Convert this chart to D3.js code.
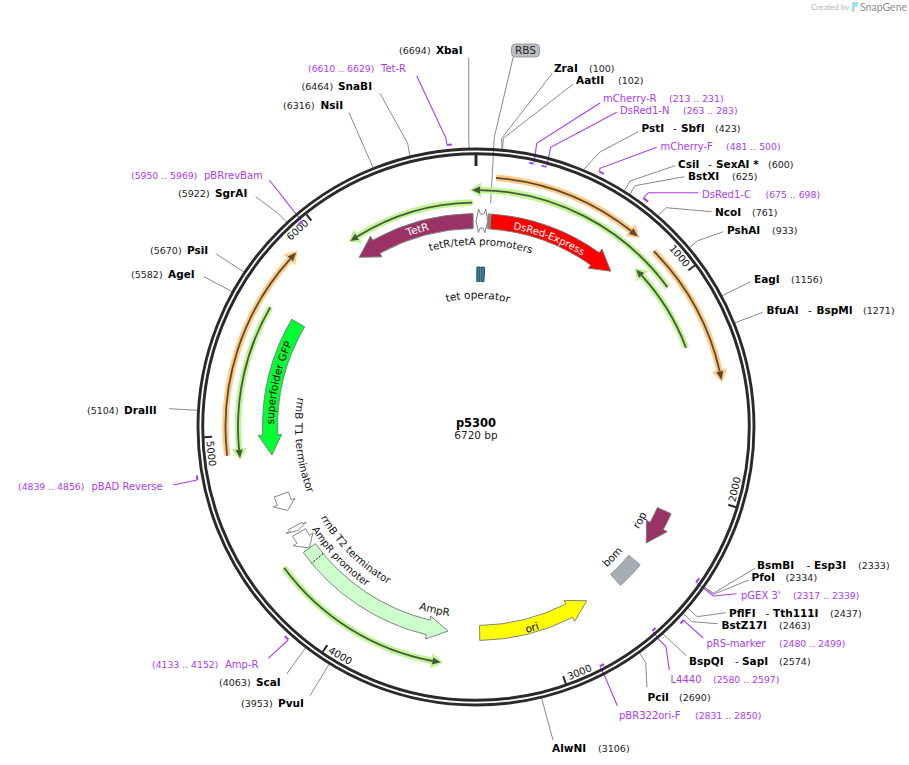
<!DOCTYPE html>
<html><head><meta charset="utf-8">
<script src="https://cdn.jsdelivr.net/npm/d3@7"></script>
<style>
html,body{margin:0;background:#fff}
svg{display:block}
text{font-family:"DejaVu Sans",Verdana,sans-serif}
</style></head><body><svg id="map" width="909" height="765"></svg>
<script>
// ---------- data (base pairs) ----------
const plasmidName = "p5300";
const plasmidLength = 6720;
const tickPositions = [1000,2000,3000,4000,5000,6000];

const enzymeNames  = ["XbaI","ZraI","AatII","PstI","CsiI","BstXI","NcoI","PshAI","EagI","BfuAI","BsmBI","PfoI","PflFI","BstZ17I","BspQI","PciI","AlwNI","PvuI","ScaI","DraIII","AgeI","PsiI","SgrAI","NsiI","SnaBI"];
const enzymeAliases= ["","","","SbfI","SexAI *","","","","","BspMI","Esp3I","","Tth111I","","SapI","","","","","","","","","",""];
const enzymeSites  = [6694,100,102,423,600,625,761,933,1156,1271,2333,2334,2437,2463,2574,2690,3106,3953,4063,5104,5582,5670,5922,6316,6464];

const primerNames  = ["Tet-R","mCherry-R","DsRed1-N","mCherry-F","DsRed1-C","pGEX 3'","pRS-marker","L4440","pBR322ori-F","Amp-R","pBAD Reverse","pBRrevBam"];
const primerStarts = [6610,213,263,481,675,2317,2480,2580,2831,4133,4839,5950];
const primerEnds   = [6629,231,283,500,698,2339,2499,2597,2850,4152,4856,5969];
const primerReverse= [false,true,true,false,false,true,false,true,true,false,false,true];

const arrowNames  = ["TetR","DsRed-Express","superfolder GFP","AmpR","ori","rop","rrnB T1 terminator","rrnB T2 terminator","AmpR promoter"];
const arrowStarts = [6705,75,5606,4368,3341,2127,4683,4504,4465];
const arrowEnds   = [6075,763,4894,3506,2753,2320,4594,4477,4368];

const blockNames  = ["bom","RBS"];
const blockStarts = [2427,61];
const blockEnds   = [2569,75];

const operatorStarts = [6,36];
const operatorEnds   = [28,58];

const promoterStarts = [48,13];
const promoterEnds   = [0,61];

const orfSignalEnd = [4300];

const orangeStarts = [86,846,4917];
const orangeEnds   = [754,1478,5864];
const greenStarts  = [1006,1294,6703,5604,4363];
const greenEnds    = [-19,850,6085,4900,3519];

// ---------- layout of the annotation text (page pixels) ----------
const CX = 476, CY = 427;
const enzymeSpots = {
 XbaI:{x:436,num:399,y:50,lead:[[468.7,57.7],[468.7,137.3]]},
 ZraI:{x:554,num:589,y:68,lead:[[552.3,73.3],[501.7,138.3]]},
 AatII:{x:576,num:618,y:80,lead:[[573.3,84],[503.3,138.3]]},
 PstI:{x:641.5,dash:673,x2:681,num:715,y:128,lead:[[638.3,131.7],[600,152]]},
 CsiI:{x:678,dash:708,x2:716,num:768,y:164,lead:[[675,165.7],[630,181]]},
 BstXI:{x:688,num:732,y:176,lead:[[684.3,176.7],[635,185.7]]},
 NcoI:{x:715,num:752,y:212,lead:[[711.7,211.7],[666,207.7]]},
 PshAI:{x:727,num:772,y:230,lead:[[723.3,231.7],[697.7,240.7]]},
 EagI:{x:754,num:791,y:279,lead:[[750.7,281.7]]},
 BfuAI:{x:766.5,dash:808,x2:816.5,num:863,y:310,lead:[[762.7,312.3]]},
 BsmBI:{x:757,dash:806.5,x2:814,num:858,y:565,lead:[[755,568.3],[713.3,593.3]]},
 PfoI:{x:751.5,num:785.5,y:577,lead:[[749,580],[713.3,594.3]]},
 PflFI:{x:729,dash:765.5,x2:773,num:830,y:613,lead:[[725.7,612.7],[697.3,616.7]]},
 BstZ17I:{x:721.5,num:779,y:625,lead:[[717.7,623.7],[691.7,621.7]]},
 BspQI:{x:689,dash:735,x2:742,num:779,y:661,lead:[[686.7,656]]},
 PciI:{x:647.5,num:679,y:697,lead:[[647,687.3],[645.7,662.7]]},
 AlwNI:{x:552,num:598,y:748,lead:[[553,740]]},
 PvuI:{x:278,num:241,y:703,lead:[[310,695.7]]},
 ScaI:{x:256,num:219,y:682,lead:[[286.7,674]]},
 DraIII:{x:124,num:87,y:410,lead:[[169.3,408.7]]},
 AgeI:{x:168,num:131,y:274,lead:[[204,276.7]]},
 PsiI:{x:187,num:150,y:250,lead:[[215.7,253.7]]},
 SgrAI:{x:215,num:178,y:193,lead:[[255.7,196.7],[277.7,213]]},
 NsiI:{x:320.5,num:283,y:105,lead:[[349,112.7]]},
 SnaBI:{x:338,num:301.5,y:86,lead:[[380,93.3],[407.7,143.3]]}
};
const primerSpots = {
 "Tet-R":{x:381,num:308,y:68,lead:[[416.7,75.7],[446,138.3]]},
 "mCherry-R":{x:603,num:669,y:98,lead:[[600,103],[536.7,143.3]]},
 "DsRed1-N":{x:620,num:683,y:110,lead:[[616.7,112.3],[550.7,147.3]]},
 "mCherry-F":{x:660.5,num:726,y:146,lead:[[656.7,147.3],[600,168.3]]},
 "DsRed1-C":{x:702,num:765.5,y:194,lead:[[698.3,192.7],[648.3,192.7]]},
 "pGEX 3'":{x:741,num:793,y:595,lead:[[736.7,593.7],[713.3,596],[705,589.3]]},
 "pRS-marker":{x:706.5,num:779,y:643,lead:[[703.3,638],[685,621.7]]},
 "L4440":{x:670.5,num:713,y:679,lead:[[669.3,670],[666,646.7],[659.3,640]]},
 "pBR322ori-F":{x:619,num:695,y:715,lead:[[617.3,705.7],[604.3,675]]},
 "Amp-R":{x:225,num:152,y:664,lead:[[268.3,658.3]]},
 "pBAD Reverse":{x:91.5,num:18,y:486,lead:[[173.3,485]]},
 "pBRrevBam":{x:204,num:131,y:175,lead:[[269.3,180]]}
};
// curved label: centre angle (deg clockwise from top), baseline radius, direction, colour, size
const arcLabels = [
 {t:"TetR",a:-16.5,r:202.5,cw:true,fill:"#fff",s:10.5},
 {t:"DsRed-Express",a:21.2,r:201.5,cw:true,fill:"#fff",s:10},
 {t:"superfolder GFP",a:282.6,r:202,cw:true,fill:"#000",s:10.5},
 {t:"tetR/tetA promoters",a:1.5,r:182,cw:true,fill:"#111",s:10.3},
 {t:"tet operator",a:0.8,r:128.5,cw:true,fill:"#111",s:10.5},
 {t:"rrnB T1 terminator",a:264,r:181,cw:false,fill:"#111",s:10.5},
 {t:"rrnB T2 terminator",a:224.5,r:180,cw:false,fill:"#111",s:10.3},
 {t:"AmpR promoter",a:226.3,r:193.5,cw:false,fill:"#111",s:10},
 {t:"AmpR",a:192.7,r:191,cw:false,fill:"#111",s:10.5},
 {t:"ori",a:164.4,r:212,cw:false,fill:"#000",s:10.5},
 {t:"rop",a:119.6,r:192,cw:false,fill:"#111",s:10.5},
 {t:"bom",a:133.6,r:192,cw:false,fill:"#111",s:10.5}
];
const arrowColours = {"TetR":"#993366","DsRed-Express":"#ff0000","superfolder GFP":"#00ff33","AmpR":"#ccffcc","ori":"#ffff00","rop":"#993366","rrnB T1 terminator":"#fff","rrnB T2 terminator":"#fff","AmpR promoter":"#fff"};
const headDegrees = {"rrnB T1 terminator":[2.4,4.9],"rrnB T2 terminator":[0.9,1.4],"AmpR promoter":[3,5.2]};

// ---------- scales ----------
const toDeg = d3.scaleLinear().domain([0,plasmidLength]).range([0,360]);
const rad = d => (d-90)*Math.PI/180;
const polar = (deg,r) => [CX+r*Math.cos(rad(deg)), CY+r*Math.sin(rad(deg))];
const bpPoint = (bp,r) => polar(toDeg(bp),r);
const svg = d3.select("#map");
const defs = svg.append("defs");

function sector(d0,d1,r0,r1){
  const p=d3.path(), ccw=d1<d0;
  p.arc(CX,CY,r1,rad(d0),rad(d1),ccw);
  p.arc(CX,CY,r0,rad(d1),rad(d0),!ccw);
  p.closePath(); return p.toString();
}
function arrow(d0,base,tip,r0,r1,rh0,rh1){
  const p=d3.path(), ccw=tip<d0, rm=(r0+r1)/2;
  p.arc(CX,CY,r1,rad(d0),rad(base),ccw);
  let q=polar(base,rh1); p.lineTo(q[0],q[1]);
  q=polar(tip,rm); p.lineTo(q[0],q[1]);
  q=polar(base,rh0); p.lineTo(q[0],q[1]);
  q=polar(base,r0); p.lineTo(q[0],q[1]);
  p.arc(CX,CY,r0,rad(base),rad(d0),!ccw);
  p.closePath(); return p.toString();
}
function arcLine(d0,d1,r){
  const p=d3.path(); const s=polar(d0,r);
  p.moveTo(s[0],s[1]); p.arc(CX,CY,r,rad(d0),rad(d1),d1<d0); return p.toString();
}

// ---------- leaders ----------
const line = d3.line();
const gLead = svg.append("g").attr("fill","none");
const enzymes = enzymeNames.map((n,i)=>({n,alias:enzymeAliases[i],pos:enzymeSites[i],...enzymeSpots[n]}));
const primers = primerNames.map((n,i)=>({n,a:primerStarts[i],b:primerEnds[i],rev:primerReverse[i],...primerSpots[n]}));
gLead.selectAll("path.e").data(enzymes).join("path").attr("class","e")
  .attr("stroke","#8a8a8a").attr("stroke-width",1)
  .attr("d",d=>line([...d.lead,bpPoint(d.pos,279)]));
gLead.selectAll("path.p").data(primers).join("path").attr("class","p")
  .attr("stroke","#a93cf3").attr("stroke-width",1.1)
  .attr("d",d=>line([...d.lead,d.rev?bpPoint(d.b,271):bpPoint(d.a,284)]));
gLead.append("path").attr("stroke","#8a8a8a").attr("d",line([[513.3,56.7],[494.3,137.3],[490.7,203.3]]));
svg.append("rect").attr("x",511.5).attr("y",44).attr("width",28).attr("height",13).attr("rx",4)
  .attr("fill","#bcbfc5").attr("stroke","#8a8a8a").attr("stroke-width",.8);
svg.append("text").attr("x",525.5).attr("y",50.5).attr("dy",".36em").attr("text-anchor","middle").attr("font-size",10.5).attr("fill","#222").text(blockNames[1]);

// ---------- backbone ----------
const gRing = svg.append("g").attr("fill","none").attr("stroke","#2a2a2a");
gRing.append("circle").attr("cx",CX).attr("cy",CY).attr("r",278).attr("stroke-width",2.9);
gRing.append("circle").attr("cx",CX).attr("cy",CY).attr("r",273.3).attr("stroke-width",2.9);

// ticks
svg.append("path").attr("d",line([bpPoint(0,272),bpPoint(0,261)])).attr("stroke","#2a2a2a").attr("stroke-width",3);
svg.selectAll("path.tick").data(tickPositions).join("path").attr("class","tick")
  .attr("stroke","#2a2a2a").attr("stroke-width",2)
  .attr("d",d=>line([bpPoint(d,272),bpPoint(d,264)]));
svg.selectAll("text.tick").data(tickPositions).join("text").attr("class","tick")
  .attr("font-size",10).attr("fill","#111").attr("text-anchor","middle").attr("dy",".36em")
  .attr("transform",d=>{
     const a=toDeg(d)-3.6, q=polar(a,266);
     const rot=(a>90&&a<270)?a-180:(a>=270?a-360:a);
     return `translate(${q[0]},${q[1]}) rotate(${rot})`;})
  .text(d=>d);

// primer ticks
svg.selectAll("path.pt").data(primers).join("path").attr("class","pt")
  .attr("fill","none").attr("stroke","#a93cf3").attr("stroke-width",2)
  .attr("d",d=>arcLine(toDeg(d.a),toDeg(d.b),d.rev?269.5:283.5));

// ---------- primer-binding style arcs ----------
function band(starts,ends,r,halo,core){
  const rows=starts.map((s,i)=>({d0:toDeg(s),d1:toDeg(ends[i])}));
  const g=svg.append("g");
  const head=d=>{const dir=d.d1>d.d0?1:-1;return d.d1-dir*2;};
  g.selectAll("path.h").data(rows).join("path").attr("class","h").attr("fill","none").attr("stroke",halo).attr("stroke-width",6.5)
    .attr("d",d=>arcLine(d.d0,head(d),r));
  g.selectAll("path.ha").data(rows).join("path").attr("class","ha").attr("fill",halo).attr("stroke",halo).attr("stroke-width",2.5).attr("stroke-linejoin","miter")
    .attr("d",d=>arrow(head(d),head(d),d.d1,r-1,r+1,r-5.5,r+5.5));
  g.selectAll("path.c").data(rows).join("path").attr("class","c").attr("fill","none").attr("stroke",core).attr("stroke-width",1.8)
    .attr("d",d=>arcLine(d.d0,head(d),r));
  g.selectAll("path.ca").data(rows).join("path").attr("class","ca").attr("fill",core)
    .attr("d",d=>arrow(head(d),head(d),d.d1,r-1,r+1,r-3.6,r+3.6));
}
band(orangeStarts.slice(0,2),orangeEnds.slice(0,2),250,"#fdcb87","#5d4a2c");
band(orangeStarts.slice(2),orangeEnds.slice(2),250.5,"#fdcb87","#5d4a2c");
band(greenStarts.slice(0,1),greenEnds.slice(0,1),237,"#bff595","#47583a");
band(greenStarts.slice(1,3),greenEnds.slice(1,3),224.5,"#bff595","#47583a");
band(greenStarts.slice(3),greenEnds.slice(3),238,"#bff595","#47583a");

// ---------- feature arrows ----------
const arrows = arrowNames.map((n,i)=>({n,s:toDeg(arrowStarts[i]),e:toDeg(arrowEnds[i])}));
svg.selectAll("path.feat").data(arrows).join("path").attr("class","feat")
  .attr("fill",d=>arrowColours[d.n]).attr("stroke","#777").attr("stroke-width",.9).attr("stroke-linejoin","miter")
  .attr("d",d=>{
    const dir=d.e>d.s?1:-1, h=headDegrees[d.n]||[5.6];
    const base=d.e-dir*h[0];
    return arrow(d.s,base,d.e,198.5,213.5,194.5,218);
  });
// signal peptide divider on AmpR
svg.append("path").attr("d",line([bpPoint(orfSignalEnd[0],198.5),bpPoint(orfSignalEnd[0],213.5)]))
  .attr("stroke","#111").attr("stroke-width",1).attr("stroke-dasharray","2,1.5");
// blocks
svg.selectAll("path.block").data(blockNames.map((n,i)=>({n,a:blockStarts[i],b:blockEnds[i]}))).join("path").attr("class","block")
  .attr("fill",d=>d.n==="bom"?"#a7adb4":"#808080").attr("stroke","#888").attr("stroke-width",.8)
  .attr("d",d=>sector(toDeg(d.a),toDeg(d.b),d.n==="bom"?199.5:198.5,d.n==="bom"?214.5:213.5));
// divergent promoter: union outline of the two opposed arrows
(function(){
  const [a,b]=promoterStarts, [ta,tb]=promoterEnds, waist=9;
  const seq=[[ta,206],[b,218],[b+waist,213],[a-waist,213],[a,218],[tb,206],[a,194.5],[a-waist,199],[b+waist,199],[b,194.5]];
  svg.append("path").attr("fill","#fff").attr("stroke","#777").attr("stroke-width",.9)
    .attr("d",d3.line()(seq.map(s=>bpPoint(s[0],s[1])))+"Z");
})();
// operator
svg.selectAll("path.op").data(operatorStarts.map((s,i)=>({s,e:operatorEnds[i]}))).join("path").attr("class","op")
  .attr("fill","#2f7fa3").attr("stroke","#2d4a55").attr("stroke-width",1)
  .attr("d",d=>sector(toDeg(d.s),toDeg(d.e),145.5,160));

// ---------- curved labels ----------
arcLabels.forEach((l,i)=>{
  const id="lab"+i, p=d3.path(), a0=l.cw?l.a-70:l.a+70, a1=l.cw?l.a+70:l.a-70, s=polar(a0,l.r);
  p.moveTo(s[0],s[1]); p.arc(CX,CY,l.r,rad(a0),rad(a1),!l.cw);
  defs.append("path").attr("id",id).attr("d",p.toString());
  svg.append("text").attr("font-size",l.s).attr("fill",l.fill)
    .append("textPath").attr("href","#"+id).attr("startOffset","50%").attr("text-anchor","middle").text(l.t);
});

// ---------- site labels ----------
const gText = svg.append("g").attr("dominant-baseline","central");
enzymes.forEach(d=>{
  gText.append("text").attr("x",d.x).attr("y",d.y).attr("font-size",10.5).attr("font-weight","bold").attr("fill","#000").text(d.n);
  if(d.alias){
    gText.append("text").attr("x",d.dash).attr("y",d.y).attr("font-size",10.5).attr("fill","#111").text("-");
    gText.append("text").attr("x",d.x2).attr("y",d.y).attr("font-size",10.5).attr("font-weight","bold").attr("fill","#000").text(d.alias);
  }
  gText.append("text").attr("x",d.num).attr("y",d.y+.5).attr("font-size",9.5).attr("fill","#222").text(`(${d.pos})`);
});
primers.forEach(d=>{
  gText.append("text").attr("x",d.x).attr("y",d.y).attr("font-size",10).attr("fill","#a93cf3").text(d.n);
  gText.append("text").attr("x",d.num).attr("y",d.y+.5).attr("font-size",9.3).attr("fill","#a93cf3").text(`(${d.a} .. ${d.b})`);
});

// ---------- centre ----------
svg.append("text").attr("x",CX).attr("y",427).attr("text-anchor","middle").attr("font-size",11.5).attr("font-weight","bold").text(plasmidName);
svg.append("text").attr("x",CX).attr("y",439).attr("text-anchor","middle").attr("font-size",10.5).attr("fill","#222").text(plasmidLength+" bp");

// ---------- credit ----------
svg.append("text").attr("x",811).attr("y",10).attr("font-size",8).attr("style","font-family:Lato").attr("fill","#b5b5b5").text("Created by");
svg.append("path").attr("d",line([[852,2],[858,2],[858,6],[855,7],[854,12],[852,12]])).attr("fill","#a5dcf2");
svg.append("text").attr("x",860).attr("y",11).attr("font-size",10.5).attr("style","font-family:Lato").attr("fill","#8f8f8f").text("SnapGene");
</script></body></html>
